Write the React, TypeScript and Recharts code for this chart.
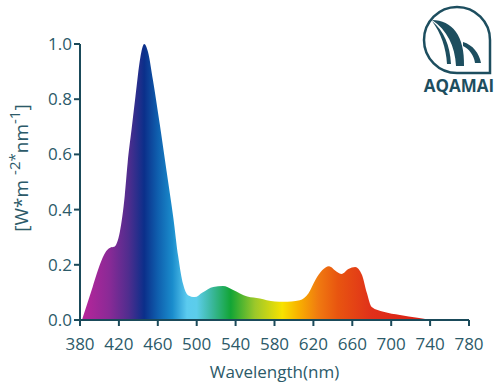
import React from "react";
import { AreaChart, Area, XAxis, YAxis } from "recharts";

const wavelengths = [382, 393, 402, 407, 411, 415, 421, 426, 429, 433, 437, 442, 446, 450, 455, 462, 469, 476, 481, 486, 491, 498, 506, 517, 527, 537, 552, 565, 572, 589, 606, 615, 622, 629, 636, 644, 649, 656, 663, 670, 675, 680, 692, 709, 727, 740];
const irradiance = [0, 0.12, 0.215, 0.25, 0.262, 0.265, 0.32, 0.45, 0.57, 0.69, 0.81, 0.95, 1.0, 0.97, 0.87, 0.71, 0.54, 0.37, 0.23, 0.13, 0.09, 0.083, 0.1, 0.12, 0.123, 0.11, 0.085, 0.078, 0.072, 0.066, 0.072, 0.097, 0.145, 0.18, 0.195, 0.175, 0.167, 0.185, 0.192, 0.163, 0.098, 0.047, 0.03, 0.018, 0.008, 0];
const xTicks = [380, 420, 460, 500, 540, 580, 620, 660, 700, 740, 780];
const yTicks = [0, 0.2, 0.4, 0.6, 0.8, 1.0];

const spectrumStops: [number, string][] = [
  [385, "#b4259a"],
  [410, "#8a2a96"],
  [430, "#4f2d8e"],
  [446, "#0b2f8a"],
  [460, "#0f5fae"],
  [475, "#1a8ccc"],
  [490, "#5bcbef"],
  [500, "#5ccdea"],
  [515, "#3cb8a0"],
  [535, "#12a535"],
  [560, "#9cc82a"],
  [588, "#f8e200"],
  [605, "#f8b000"],
  [625, "#f07a10"],
  [645, "#e85510"],
  [680, "#e0301a"],
  [740, "#d82015"],
];

const data = wavelengths.map((w, i) => ({ w, v: irradiance[i] }));

const FONT = "'Open Sans', sans-serif";
const TEXT = "#2c5a69";
const AXIS = "#1a4a5a";

const YLabel = () => (
  <text
    transform="translate(28,168) rotate(-90)"
    textAnchor="middle"
    fontFamily={FONT}
    fontSize={19}
    fill={TEXT}
  >
    <tspan>[W*m </tspan>
    <tspan dy={-8} fontSize={15}>-2*</tspan>
    <tspan dy={8}>nm</tspan>
    <tspan dy={-8} fontSize={15}>-1</tspan>
    <tspan dy={8}>]</tspan>
  </text>
);

export default function App() {
  return (
    <div style={{ position: "absolute", left: 0, top: 0, width: 500, height: 383, background: "#ffffff" }}>
      <AreaChart width={500} height={383} data={data} margin={{ top: 44, right: 31, left: 0, bottom: 0 }}>
        <defs>
          <linearGradient id="spec" gradientUnits="userSpaceOnUse" x1={80} y1={0} x2={469} y2={0}>
            {spectrumStops.map(([w, c]) => (
              <stop key={w} offset={(w - 380) / 400} stopColor={c} />
            ))}
          </linearGradient>
        </defs>
        <XAxis
          dataKey="w"
          type="number"
          domain={[380, 780]}
          ticks={xTicks}
          interval={0}
          height={63}
          stroke={AXIS}
          strokeWidth={2}
          tickSize={6}
          tickMargin={12}
          tick={{ fill: TEXT, fontSize: 17, fontFamily: FONT }}
          label={{ value: "Wavelength(nm)", position: "insideBottom", offset: 5, fill: TEXT, fontSize: 17, fontFamily: FONT }}
        />
        <YAxis
          type="number"
          domain={[0, 1]}
          ticks={yTicks}
          interval={0}
          width={80}
          stroke={AXIS}
          strokeWidth={2}
          tickSize={6}
          tickFormatter={(v: number) => v.toFixed(1)}
          tick={{ fill: TEXT, fontSize: 17, fontFamily: FONT }}
          label={<YLabel />}
        />
        <Area
          type="monotone"
          dataKey="v"
          stroke="none"
          fill="url(#spec)"
          fillOpacity={1}
          isAnimationActive={false}
        />
      </AreaChart>
      <svg width={500} height={383} style={{ position: "absolute", left: 0, top: 0, pointerEvents: "none" }}>
        <path d="M 490 73 L 457 73 A 33 33 0 1 1 490 40 Z" fill="none" stroke="#1d4e5f" strokeWidth={2.5} />
        <path d="M 432 20 C 452 20, 465 36, 464 66 L 456 66 C 455 46, 447 30, 432 20 Z" fill="#1d4e5f" />
        <path d="M 432 21 C 441 33, 446 48, 447 64 L 451 64 C 450 45, 444 31, 432 21 Z" fill="#1d4e5f" />
        <path d="M 463 42 C 473 45, 479 53, 481 63 L 475 63 C 474 55, 469 49, 463 46 Z" fill="#1d4e5f" />
        <text x={459} y={92} textAnchor="middle" fontFamily={FONT} fontWeight={700} fontSize={17} fill="#1d4e5f">AQAMAI</text>
      </svg>
    </div>
  );
}
